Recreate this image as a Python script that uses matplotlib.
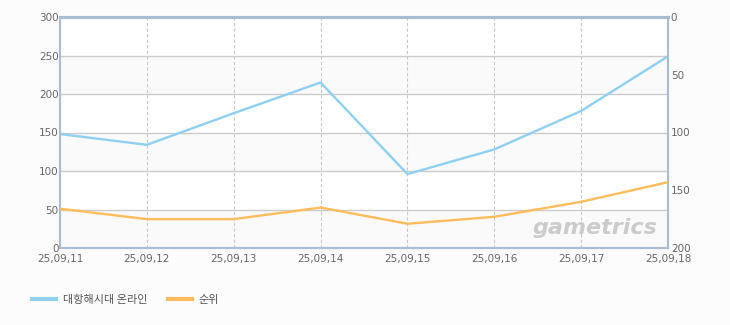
import matplotlib
matplotlib.use("Agg")
import matplotlib.pyplot as plt
from matplotlib.lines import Line2D

plt.rcParams['font.family'] = ['Noto Sans CJK KR', 'DejaVu Sans']

dates = ["25,09,11", "25,09,12", "25,09,13", "25,09,14", "25,09,15", "25,09,16", "25,09,17", "25,09,18"]
online = [148, 134, 175, 215, 96, 128, 178, 249]
rank = [166, 175, 175, 165, 179, 173, 160, 143]
series_names = ["대항해시대 온라인", "순위"]

blue = "#8fd0f0"
orange = "#fdbd5c"
bg = "#fcfcfc"
tick_col = "#666666"
spine_col = "#aabdd2"

fig = plt.figure(figsize=(7.3, 3.25), dpi=100, facecolor=bg)
ax = fig.add_axes([60/730, 1-248/325, (668-60)/730, (248-17)/325])
ax.set_facecolor("white")
x = list(range(len(dates)))

ax.set_xlim(0, len(dates)-1)
ax.set_ylim(0, 300)
for lo in (0, 100, 200):
    ax.axhspan(lo, lo+50, color="#fafafa", zorder=0, lw=0)
for v in (50, 100, 150, 200, 250):
    ax.axhline(v, color="#cccccc", lw=1, zorder=1)
for xi in x[1:-1]:
    ax.axvline(xi, color="#c8c8c8", lw=0.8, ls=(0, (3, 2)), zorder=1)

ax.plot(x, online, color=blue, lw=1.7, zorder=3)
ax2 = ax.twinx()
ax2.set_ylim(200, 0)
ax2.plot(x, rank, color=orange, lw=1.7, zorder=3)

ax.set_xticks(x)
ax.set_xticklabels(dates)
ax.set_yticks(range(0, 301, 50))
ax2.set_yticks(range(0, 201, 50))
for a in (ax, ax2):
    a.tick_params(axis='both', length=0, labelsize=7.5, labelcolor=tick_col, pad=2)
    for s in a.spines.values():
        s.set_color(spine_col)
        s.set_linewidth(1.5)
ax.tick_params(axis='x', pad=4)
ax.spines['top'].set_linewidth(2.2)
ax2.spines['top'].set_linewidth(2.2)
ax.tick_params(axis='y', pad=1)
ax2.tick_params(axis='y', pad=2)
for lbl in ax.get_yticklabels() + ax2.get_yticklabels() + ax.get_xticklabels():
    lbl.set_family(['DejaVu Sans'])

ax2.text(0.983, 0.045, "gametrics", transform=ax.transAxes, ha='right', va='bottom',
         fontsize=16, fontweight='bold', style='italic', color="#cbcbcb",
         family=['DejaVu Sans'], zorder=2)

handles = [Line2D([], [], color=blue, lw=3), Line2D([], [], color=orange, lw=3)]
fig.legend(handles, series_names, loc='center left', bbox_to_anchor=(0.03, 1-300/325),
           ncol=2, frameon=False, fontsize=8, labelcolor="#555555",
           handlelength=2.2, handletextpad=0.6, columnspacing=1.8)

fig.savefig("out.png", dpi=100, facecolor=bg)
